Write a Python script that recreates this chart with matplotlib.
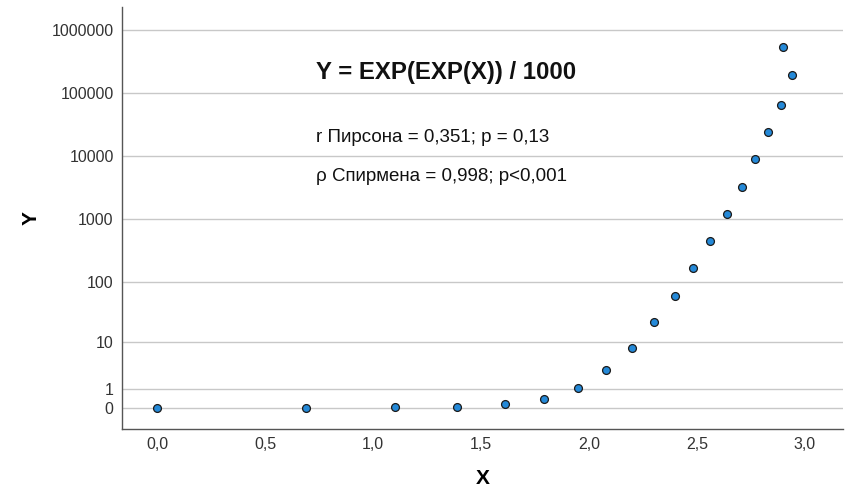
import numpy as np
import matplotlib
matplotlib.use("Agg")
import matplotlib.pyplot as plt

plt.rcParams['font.family'] = ['Liberation Sans', 'DejaVu Sans']

# data
x_vals = [0.00, 0.69, 1.10, 1.39, 1.61, 1.79, 1.95, 2.08, 2.20, 2.30,
          2.40, 2.48, 2.56, 2.64, 2.71, 2.77, 2.83, 2.89, 2.90, 2.94]
y_vals = [0.0027, 0.0074, 0.020, 0.055, 0.148, 0.403, 1.10, 2.98, 8.1, 22.0,
          59.9, 163, 442, 1203, 3269, 8886, 24155, 65660, 530000, 190000]

y_ticks = [0, 1, 10, 100, 1000, 10000, 100000, 1000000]
x_ticks = [0.0, 0.5, 1.0, 1.5, 2.0, 2.5, 3.0]
x_tick_labels = ['0,0', '0,5', '1,0', '1,5', '2,0', '2,5', '3,0']

title_text = 'Y = EXP(EXP(X)) / 1000'
pearson_text = 'r Пирсона = 0,351; p = 0,13'
spearman_text = 'ρ Спирмена = 0,998; p<0,001'


def fwd(y):
    return np.log10(np.clip(y, -0.999, None) + 1)


def inv(t):
    return 10 ** t - 1


fig = plt.figure(figsize=(8.53, 5.03), dpi=100)
ax = fig.add_axes([122 / 853, 1 - 429 / 503, (843 - 122) / 853, (429 - 7) / 503])

ax.set_yscale('function', functions=(fwd, inv))
ax.set_ylim(inv(-0.333), inv(6.365))
ax.set_xlim(-0.162, 3.176)

ax.set_yticks(y_ticks)
ax.set_yticklabels([str(v) for v in y_ticks])
ax.set_xticks(x_ticks)
ax.set_xticklabels(x_tick_labels)
ax.minorticks_off()
ax.tick_params(length=0, labelsize=11.5, colors='#333333', pad=6)

ax.grid(axis='y', color='#c8c8c8', linewidth=1.0)
ax.set_axisbelow(True)

for s in ['top', 'right']:
    ax.spines[s].set_visible(False)
for s in ['left', 'bottom']:
    ax.spines[s].set_color('#555555')
    ax.spines[s].set_linewidth(1.0)

ax.scatter(x_vals, y_vals, s=32, facecolor='#2489d8', edgecolor='#1a1a1a',
           linewidth=0.9, zorder=3)

ax.set_xlabel('X', fontsize=15, fontweight='bold', labelpad=12)
ax.set_ylabel('Y', fontsize=15, fontweight='bold')
ax.yaxis.set_label_coords(-0.113, 0.5)

fig.text(316 / 853, 1 - 72 / 503, title_text, fontsize=17.3, fontweight='bold',
         va='center', ha='left', color='#111111')
fig.text(316 / 853, 1 - 137 / 503, pearson_text, fontsize=13.5,
         va='center', ha='left', color='#111111')
fig.text(316 / 853, 1 - 177 / 503, spearman_text, fontsize=13.5,
         va='center', ha='left', color='#111111')

fig.savefig('out.png', dpi=100)
